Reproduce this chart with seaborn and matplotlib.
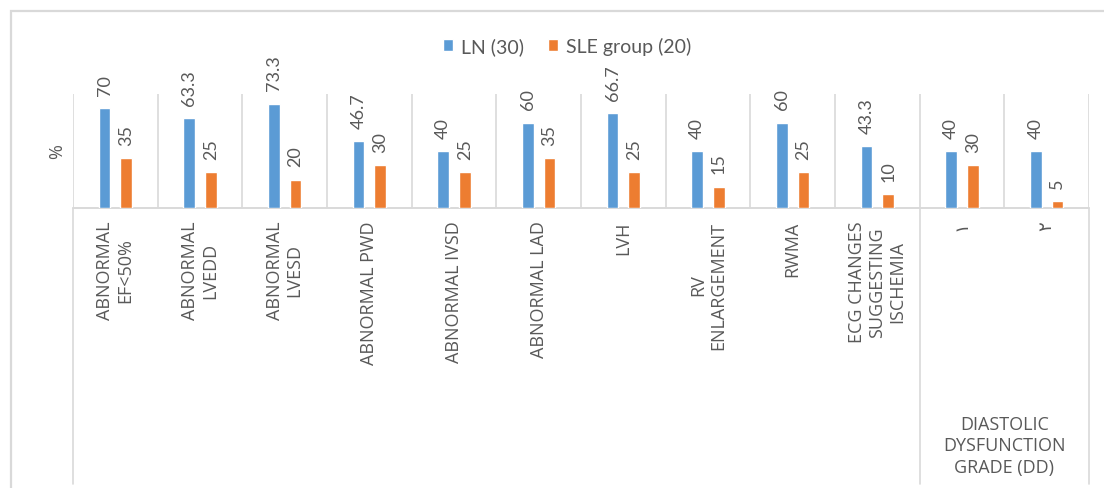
import matplotlib
matplotlib.use("Agg")
import matplotlib.pyplot as plt
import matplotlib.transforms as mtransforms
from matplotlib.patches import Rectangle
import pandas as pd
import seaborn as sns

# ---- data -------------------------------------------------------------
categories = [
    "ABNORMAL\nEF<50%",
    "ABNORMAL\nLVEDD",
    "ABNORMAL\nLVESD",
    "ABNORMAL PWD",
    "ABNORMAL IVSD",
    "ABNORMAL LAD",
    "LVH",
    "RV\nENLARGEMENT",
    "RWMA",
    "ECG CHANGES\nSUGGESTING\nISCHEMIA",
    "١",
    "٢",
]
ln_values = [70, 63.3, 73.3, 46.7, 40, 60, 66.7, 40, 60, 43.3, 40, 40]
sle_values = [35, 25, 20, 30, 25, 35, 25, 15, 25, 10, 30, 5]
series_names = ["LN (30)", "SLE group (20)"]
group_label = "DIASTOLIC\nDYSFUNCTION\nGRADE (DD)"
y_label = "%"

# ---- styling ----------------------------------------------------------
BLUE = "#5B9BD5"
ORANGE = "#ED7D31"
TEXT = "#595959"
GRID = "#D9D9D9"

sns.set_style("white")
plt.rcParams["font.family"] = ["Lato", "DejaVu Sans"]
label_family = ["Open Sans", "DejaVu Sans"]

df = pd.DataFrame({
    "category": categories * 2,
    "series": [series_names[0]] * len(categories) + [series_names[1]] * len(categories),
    "value": ln_values + sle_values,
})

W, H, DPI = 1104, 489, 100
fig = plt.figure(figsize=(W / DPI, H / DPI), dpi=DPI)

# plot area in pixels: left 73, right 1089, baseline 209, top 95
px_left, px_right, px_base, px_top = 73, 1089, 209, 95
ax = fig.add_axes([px_left / W, 1 - px_base / H,
                   (px_right - px_left) / W, (px_base - px_top) / H])

sns.barplot(data=df, x="category", y="value", hue="series",
            order=categories, hue_order=series_names,
            palette=[BLUE, ORANGE], saturation=1, errorbar=None,
            width=0.508, gap=0.45, ax=ax)

ax.set_xlim(-0.5, len(categories) - 0.5)
ax.set_ylim(0, 80)
for s in ax.spines.values():
    s.set_visible(False)
ax.set_yticks([])
ax.set_xlabel("")
ax.set_ylabel("")

# value labels above each bar
for cont in ax.containers:
    ax.bar_label(cont, fmt="%g", rotation=90, padding=9.5,
                 color=TEXT, fontsize=13)

# category separators and baseline
for i in range(len(categories) + 1):
    ax.axvline(i - 0.5, color=GRID, lw=1.2, zorder=0)
ax.axhline(0, color=GRID, lw=1.4, zorder=0, clip_on=False)

# separators extending through the category label area
blend = mtransforms.blended_transform_factory(ax.transData, ax.transAxes)
label_bottom = (px_base - 485) / (px_base - px_top)
for xv in (-0.5, 9.5, len(categories) - 0.5):
    ax.plot([xv, xv], [0, label_bottom], transform=blend,
            color=GRID, lw=1.2, clip_on=False)

# category tick labels
ax.set_xticks(range(len(categories)))
ax.set_xticklabels(categories, rotation=90, ha="center", va="top",
                   multialignment="center", fontsize=13, color=TEXT,
                   family=label_family, linespacing=1.15)
ax.tick_params(axis="x", length=0, pad=9)

# outer group label for the diastolic dysfunction grades
ax.text(10.5, (px_base - 446) / (px_base - px_top), group_label,
        transform=blend, ha="center", va="center", multialignment="center",
        fontsize=13, color=TEXT, family=label_family, linespacing=1.25)

# y axis title
fig.text(57 / W, 1 - 152 / H, y_label, rotation=90, ha="center",
         va="center", fontsize=13, color=TEXT, family=label_family)

# legend centred above the plot
sns.move_legend(ax, "center", bbox_to_anchor=(567 / W, 1 - 47 / H),
                bbox_transform=fig.transFigure, ncol=2, frameon=False,
                title=None, handlelength=0.55, handleheight=0.55,
                handletextpad=0.4, columnspacing=1.2,
                prop={"family": "Lato", "size": 14}, labelcolor=TEXT)

# light chart border
fig.patches.append(Rectangle((11 / W, -0.1), 1.2, (H - 12) / H + 0.1,
                             transform=fig.transFigure, fill=False,
                             edgecolor=GRID, lw=1.6))

fig.savefig("out.png", dpi=DPI)
